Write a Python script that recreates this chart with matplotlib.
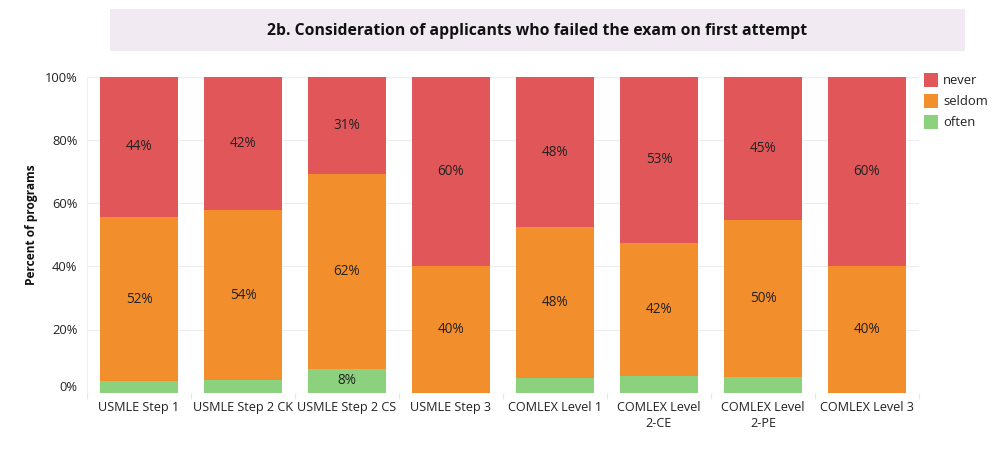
import matplotlib
matplotlib.use("Agg")
import matplotlib.pyplot as plt
import matplotlib.transforms as mtransforms
from matplotlib.patches import Rectangle
import numpy as np

categories = ["USMLE Step 1", "USMLE Step 2 CK", "USMLE Step 2 CS", "USMLE Step 3",
              "COMLEX Level 1", "COMLEX Level\n2-CE", "COMLEX Level\n2-PE", "COMLEX Level 3"]
often = [3.7, 4.0, 7.5, 0.0, 4.7, 5.4, 5.0, 0.0]
seldom = [51.9, 53.8, 61.7, 40.0, 47.6, 42.0, 49.6, 40.0]
never = [44.4, 42.2, 30.8, 60.0, 47.7, 52.6, 45.4, 60.0]
series_names = ["never", "seldom", "often"]
colors = {"never": "#e15759", "seldom": "#f28e2b", "often": "#8cd17d"}
yticks = [0, 20, 40, 60, 80, 100]
ytick_labels = ["0%", "20%", "40%", "60%", "80%", "100%"]
title = "2b. Consideration of applicants who failed the exam on first attempt"
ylabel = "Percent of programs"

plt.rcParams['font.family'] = ['Open Sans', 'DejaVu Sans']

W, H = 994, 454
fig = plt.figure(figsize=(W / 100, H / 100), dpi=100)
fig.patch.set_facecolor("white")

def fx(px):
    return px / W

def fy(py):
    return 1 - py / H

left, right, top, bottom = 87, 919, 76.7, 392.7
ax = fig.add_axes([fx(left), fy(bottom), fx(right - left), (bottom - top) / H])
ax.set_xlim(-0.5, len(categories) - 0.5)
ax.set_ylim(0, 100)

x = np.arange(len(categories))
often_a = np.array(often)
seldom_a = np.array(seldom)
never_a = np.array(never)
bw = 0.75
ax.bar(x, often_a, bw, color=colors["often"], zorder=3, linewidth=0)
ax.bar(x, seldom_a, bw, bottom=often_a, color=colors["seldom"], zorder=3, linewidth=0)
ax.bar(x, never_a, bw, bottom=often_a + seldom_a, color=colors["never"], zorder=3, linewidth=0)

lab_kw = dict(ha="center", va="center", fontsize=9.8, color="#222222", zorder=4)
for i in range(len(categories)):
    if often_a[i] >= 6:
        ax.text(x[i], often_a[i] / 2, f"{round(often_a[i]):.0f}%", **lab_kw)
    ax.text(x[i], often_a[i] + seldom_a[i] / 2, f"{round(seldom_a[i]):.0f}%", **lab_kw)
    ax.text(x[i], often_a[i] + seldom_a[i] + never_a[i] / 2, f"{round(never_a[i]):.0f}%", **lab_kw)

# grid
ax.set_yticks(yticks)
ax.set_yticklabels(ytick_labels, fontsize=9.3, color="#222222")
for t in yticks:
    ax.axhline(t, color="#ececec", lw=0.8, zorder=1)
ax.tick_params(axis="y", length=0, pad=7)
lbl0 = ax.get_yticklabels()[0]
lbl0.set_transform(lbl0.get_transform() + mtransforms.ScaledTranslation(0, 7 / 100, fig.dpi_scale_trans))

ax.set_xticks(x)
ax.set_xticklabels(categories, fontsize=9.1, color="#222222", linespacing=1.25)
ax.tick_params(axis="x", length=0, pad=6)
ax.set_xticks(np.arange(-0.5, len(categories), 1.0), minor=True)
ax.tick_params(axis="x", which="minor", length=4, color="#e6e6e6", width=0.8)

for s in ["top", "right", "bottom"]:
    ax.spines[s].set_visible(False)
ax.spines["left"].set_color("#f0f0f0")
ax.spines["left"].set_linewidth(0.8)

fig.text(fx(32), fy(225), ylabel, rotation=90, ha="center", va="center",
         fontsize=8.6, fontweight="bold", color="#111111")

# title box
fig.patches.append(Rectangle((fx(110), fy(51)), fx(965 - 110), (51 - 9) / H,
                             transform=fig.transFigure, facecolor="#f2eaf3", edgecolor="none", zorder=0))
fig.text(fx(537), fy(31), title, ha="center", va="center", fontsize=11.3,
         fontweight="bold", color="#111111")

# legend
for k, name in enumerate(series_names):
    cy = 80 + 21 * k
    fig.patches.append(Rectangle((fx(924), fy(cy + 7)), fx(14), 14 / H,
                                 transform=fig.transFigure, facecolor=colors[name], edgecolor="none"))
    fig.text(fx(943), fy(cy), name, ha="left", va="center", fontsize=9.4, color="#222222")

fig.savefig("out.png", dpi=100)
